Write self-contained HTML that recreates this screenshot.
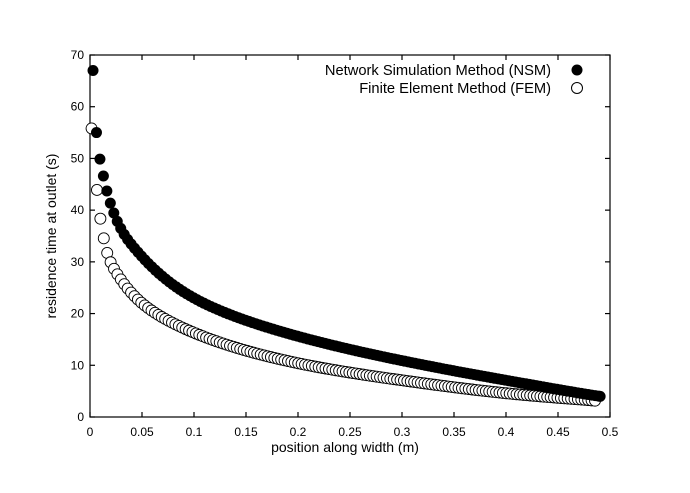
<!DOCTYPE html>
<html><head><meta charset="utf-8"><style>
body{margin:0;background:#fff;}
svg text{font-family:"Liberation Sans",sans-serif;fill:#000;}
</style></head><body>
<svg id="s" width="690" height="488" xmlns="http://www.w3.org/2000/svg">
<rect width="690" height="488" fill="#fff"/>
<g id="ax" stroke="#000" stroke-width="1.2" fill="none">
<rect x="90" y="55" width="520" height="362"/>
</g>
<g id="lbl" font-size="12"></g>
<text x="345" y="452" font-size="14" text-anchor="middle">position along width (m)</text>
<text transform="translate(56,236) rotate(-90)" font-size="14" text-anchor="middle">residence time at outlet (s)</text>
<text x="551" y="75" font-size="14.7" text-anchor="end">Network Simulation Method (NSM)</text>
<text x="551" y="93" font-size="14.7" text-anchor="end">Finite Element Method (FEM)</text>
<circle cx="577" cy="70" r="5.5" fill="#000"/>
<circle cx="577" cy="88" r="5.5" fill="#fff" stroke="#000" stroke-width="1"/>
<g id="fem"></g><g id="nsm"></g>
</svg>
<script>
var NS="http://www.w3.org/2000/svg";
function X(v){return 90+v*1040;}function Y(v){return 417-v*362/70;}
function el(p,t,a){var e=document.createElementNS(NS,t);for(var k in a)e.setAttribute(k,a[k]);p.appendChild(e);return e;}
var ax=document.getElementById('ax'),lb=document.getElementById('lbl');
for(var i=0;i<=10;i++){var v=i*0.05,x=X(v);
 el(ax,'line',{x1:x,y1:417,x2:x,y2:412});el(ax,'line',{x1:x,y1:55,x2:x,y2:60});
 var t=el(lb,'text',{x:x,y:436,'text-anchor':'middle'});t.textContent=(Math.round(v*100)/100).toString();}
for(var i=0;i<=7;i++){var y=Y(i*10);
 el(ax,'line',{x1:90,y1:y,x2:95,y2:y});el(ax,'line',{x1:610,y1:y,x2:605,y2:y});
 var t=el(lb,'text',{x:84,y:y+4,'text-anchor':'end'});t.textContent=i*10;}
function mk(pts){var xs=pts.map(function(p){return Math.log(p[0]);}),ys=pts.map(function(p){return p[1];}),n=xs.length,m=[];
 for(var i=0;i<n;i++){if(i==0)m[i]=(ys[1]-ys[0])/(xs[1]-xs[0]);else if(i==n-1)m[i]=(ys[n-1]-ys[n-2])/(xs[n-1]-xs[n-2]);
  else m[i]=(ys[i+1]-ys[i-1])/(xs[i+1]-xs[i-1]);}
 return function(x){var lx=Math.log(x);for(var i=0;i<n-1;i++){if(lx<=xs[i+1]||i==n-2){var h=xs[i+1]-xs[i],t=(lx-xs[i])/h,t2=t*t,t3=t2*t;
  return (2*t3-3*t2+1)*ys[i]+(t3-2*t2+t)*h*m[i]+(-2*t3+3*t2)*ys[i+1]+(t3-t2)*h*m[i+1];}}};}
var N=mk([[0.0029,67],[0.0058,56],[0.0092,50.3],[0.013,46.5],[0.019,41.7],[0.03,36.3],[0.05,31],[0.1,23],[0.2,15.6],[0.3,10.9],[0.4,7.1],[0.49,4]]);
var F=mk([[0.0015,55.8],[0.0067,43.9],[0.0106,37.5],[0.0144,33.5],[0.018,30.8],[0.029,26.8],[0.05,22],[0.1,16.3],[0.2,10.4],[0.3,7.1],[0.4,4.6],[0.49,3.1]]);
var g1=document.getElementById('nsm'),g2=document.getElementById('fem');
for(var i=0;i<148;i++){var x=0.0029+i*0.00333;if(x>0.4905)x=0.4905;
 el(g1,'circle',{cx:X(x),cy:Y(N(x)),r:5.5,fill:'#000'});}
for(var i=0;i<148;i++){var x=0.0015+i*0.00333;if(i>0)x=0.0067+(i-1)*0.00328;if(x>0.4905)x=0.4905;
 el(g2,'circle',{cx:X(x),cy:Y(F(x)),r:5.5,fill:'#fff',stroke:'#000','stroke-width':0.9});}
</script>
</body></html>
